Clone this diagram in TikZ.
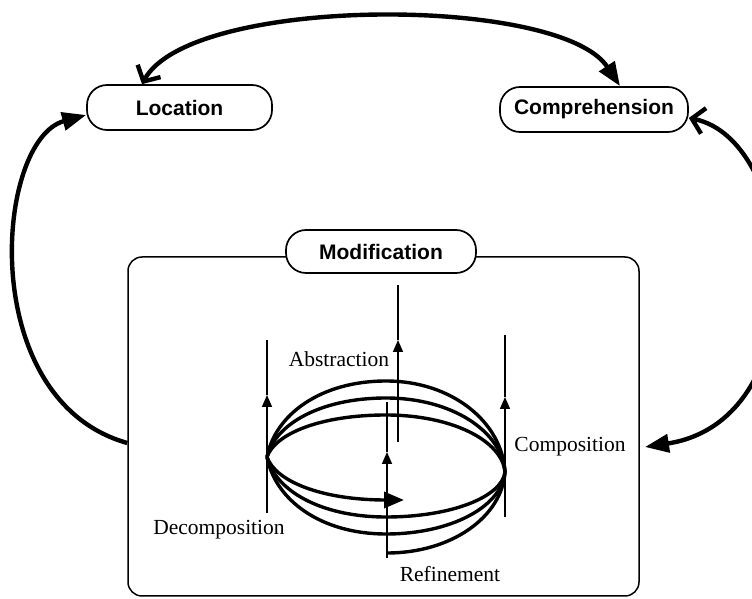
\documentclass[tikz,border=0pt]{standalone}
\usepackage{fontspec}
\setmainfont{Liberation Serif}
\newfontfamily\labelsans{Liberation Sans}
\usetikzlibrary{arrows.meta}
\begin{document}
\begin{tikzpicture}[x=0.5pt,y=-0.5pt,
  pill/.style={draw, line width=0.85pt, rounded corners=10pt, minimum height=22.5pt,
    inner sep=0pt, fill=white, font=\labelsans\bfseries\fontsize{10.5}{12}\selectfont},
  serif/.style={font=\fontsize{10.75}{12}\selectfont, inner sep=0pt},
  helix/.style={line width=1.7pt},
  thin/.style={line width=0.8pt},
  varrow/.style={-{Triangle[length=6pt,width=5pt]}},
  outer/.style={line width=2.2pt},
  bigtip/.tip={Triangle[length=12pt,width=9pt]},
  barb/.tip={Straight Barb[length=6pt,width=13pt]}
]
\useasboundingbox (0,0) rectangle (752,599);

% outer modification frame
\node[draw, line width=0.75pt, rounded corners=7pt, minimum width=255.5pt,
      minimum height=169.5pt, inner sep=0pt] (modbox) at (383.5,426.5) {};

% labelled boxes
\node[pill, minimum width=92.5pt] (loc) at (179.5,107.5) {Location};
\node[pill, minimum width=94pt] (comp) at (594,109.5) {Comprehension};
\node[pill, minimum width=95pt, minimum height=21.5pt] (mod) at (381,251.5) {Modification};

% helix
\coordinate (L) at (267,457);
\coordinate (R) at (505,472);
% upper halves
\draw[helix] (L) .. controls (275,415.0) and (320.3,381) .. (386,381) .. controls (451.7,381) and (502,421.8) .. (R);
\draw[helix] (L) .. controls (275,424.4) and (320.3,398) .. (386,398) .. controls (451.7,398) and (502,431.2) .. (R);
\draw[helix] (L) .. controls (275,433.8) and (320.3,415) .. (386,415) .. controls (451.7,415) and (502,440.5) .. (R);
% lower halves
\draw[helix] (L) .. controls (275,490.1) and (320.3,517) .. (386,517) .. controls (451.7,517) and (502,496.8) .. (R);
\draw[helix] (L) .. controls (275,499.5) and (320.3,534) .. (386,534) .. controls (451.7,534) and (502,506.2) .. (R);
\draw[helix,-{Triangle[length=10pt,width=8pt]}] (L) .. controls (275,480.7) and (320.3,500) .. (386,500) -- (404,500);
\draw[helix] (R) .. controls (502,516.7) and (451.7,553) .. (387,553);

% vertical arrows
\draw[thin,varrow] (267,513) -- (267,395);
\draw[thin] (267,395) -- (267,340);
\draw[thin,varrow] (505,517) -- (505,397);
\draw[thin] (505,397) -- (505,335);
\draw[thin,varrow] (398,442) -- (398,340);
\draw[thin] (398,340) -- (398,285);
\draw[thin,varrow] (387,558) -- (387,452);
\draw[thin] (387,452) -- (387,402);

% texts
\node[serif, anchor=base] (abs) at (339,367) {Abstraction};
\node[serif, anchor=base] (compo) at (570,452) {Composition};
\node[serif, anchor=base] (decomp) at (219,535) {Decomposition};
\node[serif, anchor=base] (refine) at (450,582) {Refinement};

% outer connectors
\coordinate (compin) at (645,447);
\draw[outer, {barb}-{bigtip}] ([xshift=-18.75pt]loc.north) .. controls (190,-5) and (560,-5) .. ([xshift=13pt]comp.north);
\draw[outer, {barb}-{bigtip}] ([yshift=-4.25pt]comp.east) .. controls (800,140) and (820,420) .. (compin);
\draw[outer, -{bigtip}] ([yshift=-8.25pt]modbox.west) .. controls (-25,400) and (-5,140) .. ([yshift=-3.75pt]loc.west);
\end{tikzpicture}
\end{document}
